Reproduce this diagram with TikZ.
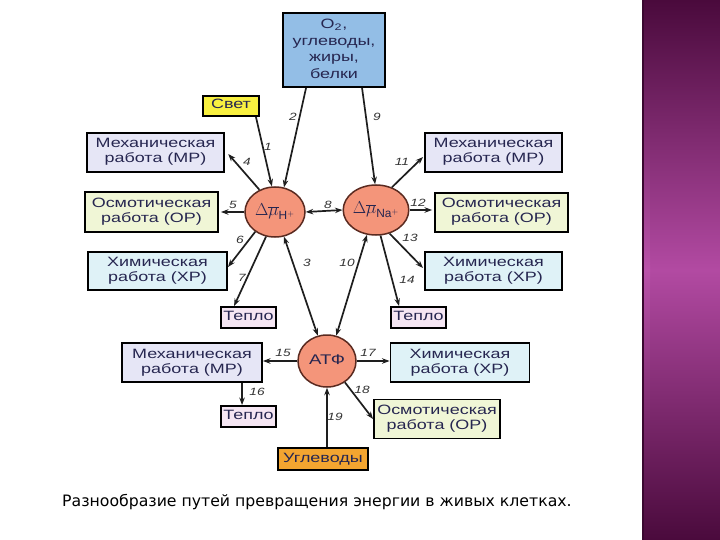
\documentclass[tikz,border=0pt]{standalone}
\usepackage{fontspec}
\setmainfont{Liberation Sans}
\newfontfamily\capfont{DejaVu Sans}
\usetikzlibrary{arrows.meta,shapes.geometric,calc}
\newcommand{\wtx}[1]{\scalebox{1.33}[1]{\begin{tabular}{@{}c@{}}#1\end{tabular}}}
\newcommand{\wlab}[1]{\scalebox{1.3}[1]{#1}}
\definecolor{txt}{HTML}{262650}
\definecolor{topC}{HTML}{93BEE6}
\definecolor{svetC}{HTML}{F8F040}
\definecolor{mpC}{HTML}{E6E6F6}
\definecolor{opC}{HTML}{F0F6D6}
\definecolor{xpC}{HTML}{DFF2F7}
\definecolor{tepC}{HTML}{F5E6F3}
\definecolor{uglC}{HTML}{F3A530}
\definecolor{circC}{HTML}{F4957A}
\definecolor{circB}{HTML}{5A2A20}
\definecolor{lineC}{HTML}{1E1E1E}
\definecolor{labC}{HTML}{333333}
\definecolor{pTop}{HTML}{4A0A3C}
\definecolor{pMid}{HTML}{B24AA2}
\definecolor{pEdge}{HTML}{3A0830}
\definecolor{pStrip}{HTML}{C058B0}
\tikzset{
  wbox/.style={draw=black, line width=1.9pt, fill=#1, inner sep=1pt, align=center,
    font=\fontsize{13.5}{15}\selectfont, text=txt},
  circ/.style={ellipse, draw=circB, line width=1.5pt, fill=circC, inner sep=0pt,
    font=\fontsize{17}{18}\selectfont, text=txt},
  arr/.style={draw=lineC, line width=1.7pt, -{Stealth[length=7.5pt,width=5.5pt]}},
  darr/.style={draw=lineC, line width=1.7pt, {Stealth[length=7.5pt,width=5.5pt]}-{Stealth[length=7.5pt,width=5.5pt]}},
  lab/.style={font=\itshape\fontsize{10.5}{11}\selectfont, text=labC, inner sep=0pt}
}
\begin{document}
\begin{tikzpicture}[x=1pt,y=-1pt]
\useasboundingbox (0,0) rectangle (720,540);
\fill[white] (0,0) rectangle (720,540);
% purple bar
\shade[top color=pTop, bottom color=pTop, middle color=pMid] (642,0) rectangle (720,540);
\shade[top color=pTop, bottom color=pTop, middle color=pStrip, opacity=0.6] (644,0) rectangle (650,540);
\fill[pEdge] (642,0) rectangle (644,540);

% boxes
\node[wbox=topC, minimum width=102pt, minimum height=74pt, font=\fontsize{13.5}{16.5}\selectfont] (top) at (334,50)
  {\wtx{O\textsubscript{2},\\углеводы,\\жиры,\\белки}};
\node[wbox=svetC, minimum width=56pt, minimum height=20pt] (svet) at (231,106) {\wtx{Свет}};
\node[wbox=mpC, minimum width=137pt, minimum height=39pt] (mpL) at (155.5,152.5) {\wtx{Механическая\\работа (МР)}};
\node[wbox=opC, minimum width=133pt, minimum height=40pt] (opL) at (151.5,212) {\wtx{Осмотическая\\работа (ОР)}};
\node[wbox=xpC, minimum width=139pt, minimum height=38pt] (xpL) at (157.5,271) {\wtx{Химическая\\работа (ХР)}};
\node[wbox=mpC, minimum width=137pt, minimum height=39pt] (mpR) at (493.5,152.5) {\wtx{Механическая\\работа (МР)}};
\node[wbox=opC, minimum width=133pt, minimum height=39pt] (opR) at (501.5,212.5) {\wtx{Осмотическая\\работа (ОР)}};
\node[wbox=xpC, minimum width=137pt, minimum height=38pt] (xpR) at (493.5,271) {\wtx{Химическая\\работа (ХР)}};
\node[wbox=tepC, minimum width=55pt, minimum height=21pt] (tepL) at (248.5,317.5) {\wtx{Тепло}};
\node[wbox=tepC, minimum width=55pt, minimum height=21pt] (tepR) at (418.5,317.5) {\wtx{Тепло}};
\node[wbox=mpC, minimum width=140pt, minimum height=39pt] (mpB) at (192,362.5) {\wtx{Механическая\\работа (МР)}};
\node[wbox=xpC, minimum width=139pt, minimum height=39pt] (xpB) at (460,362.5) {\wtx{Химическая\\работа (ХР)}};
\node[wbox=tepC, minimum width=55pt, minimum height=21pt] (tepB) at (248.5,416.5) {\wtx{Тепло}};
\node[wbox=opC, minimum width=126pt, minimum height=39pt] (opB) at (437,419) {\wtx{Осмотическая\\работа (ОР)}};
\node[wbox=uglC, minimum width=90pt, minimum height=22pt] (ugl) at (323,459) {\wtx{Углеводы}};

% circles
\node[circ, minimum width=60pt, minimum height=50pt] (H) at (275,212) {$\Delta\overline{\mu}_{\mathrm{H^+}}$};
\node[circ, minimum width=62pt, minimum height=50pt] (Na) at (376,210) {$\Delta\overline{\mu}_{\mathrm{Na^+}}$};
\node[circ, minimum width=58pt, minimum height=52pt, font=\fontsize{14}{15}\selectfont] (ATP) at (327,361) {\wtx{АТФ}};

% connectors
\draw[arr] ($(svet.south east)+(-4,0)$) -- (H.97);
\draw[arr] ($(top.south west)+(24,0)$) -- (H.70);
\draw[arr] ($(top.south west)+(80,0)$) -- (Na.92);
\draw[arr, shorten >=2pt] (H.125) -- ($(mpL.east)+(2,0)$);
\draw[arr, shorten >=2pt] (H.180) -- (opL.east);
\draw[arr] (H.225) -- ($(xpL.north east)!0.4!(xpL.south east)$);
\draw[arr] (H.250) -- ($(tepL.north west)+(14,0)$);
\draw[darr] (H.290) -- (ATP.110);
\draw[darr] (Na.250) -- (ATP.70);
\draw[darr] (H.east) -- (Na.west);
\draw[arr] (Na.55) -- ($(mpR.west)+(-1,4.5)$);
\draw[arr, shorten >=2pt] (Na.east) -- (Na.east -| opR.west);
\draw[arr] (Na.300) -- ($(xpR.west)+(-1,-3)$);
\draw[arr] (Na.280) -- ($(tepR.north west)+(9,0)$);
\draw[arr] (ATP.west) -- (ATP.west -| mpB.east);
\draw[arr] ($(mpB.south west)+(121,0)$) -- ($(tepB.north west)+(22,0)$);
\draw[arr] (ATP.east) -- (ATP.east -| xpB.west);
\draw[arr] (ATP.310) -- (opB.west);
\draw[arr] (ATP.south |- ugl.north) -- (ATP.south);

% labels
\node[lab] (l1) at (268,147) {\wlab{1}};
\node[lab] (l2) at (293,117) {\wlab{2}};
\node[lab] (l9) at (377,117) {\wlab{9}};
\node[lab] (l4) at (247,162) {\wlab{4}};
\node[lab] (l5) at (233,205) {\wlab{5}};
\node[lab] (l6) at (240,240) {\wlab{6}};
\node[lab] (l7) at (242,278) {\wlab{7}};
\node[lab] (l3) at (307,263) {\wlab{3}};
\node[lab] (l10) at (347,263) {\wlab{10}};
\node[lab] (l8) at (328,205) {\wlab{8}};
\node[lab] (l11) at (402,162) {\wlab{11}};
\node[lab] (l12) at (418,203) {\wlab{12}};
\node[lab] (l13) at (410,238) {\wlab{13}};
\node[lab] (l14) at (407,280) {\wlab{14}};
\node[lab] (l15) at (283,353) {\wlab{15}};
\node[lab] (l16) at (257,392) {\wlab{16}};
\node[lab] (l17) at (368,353) {\wlab{17}};
\node[lab] (l18) at (362,390) {\wlab{18}};
\node[lab] (l19) at (335,417) {\wlab{19}};

% caption
\node[anchor=base west, inner sep=0pt, font=\capfont\fontsize{15.7}{17}\selectfont] (cap) at (62,506)
  {Разнообразие путей превращения энергии в живых клетках.};
\end{tikzpicture}
\end{document}
